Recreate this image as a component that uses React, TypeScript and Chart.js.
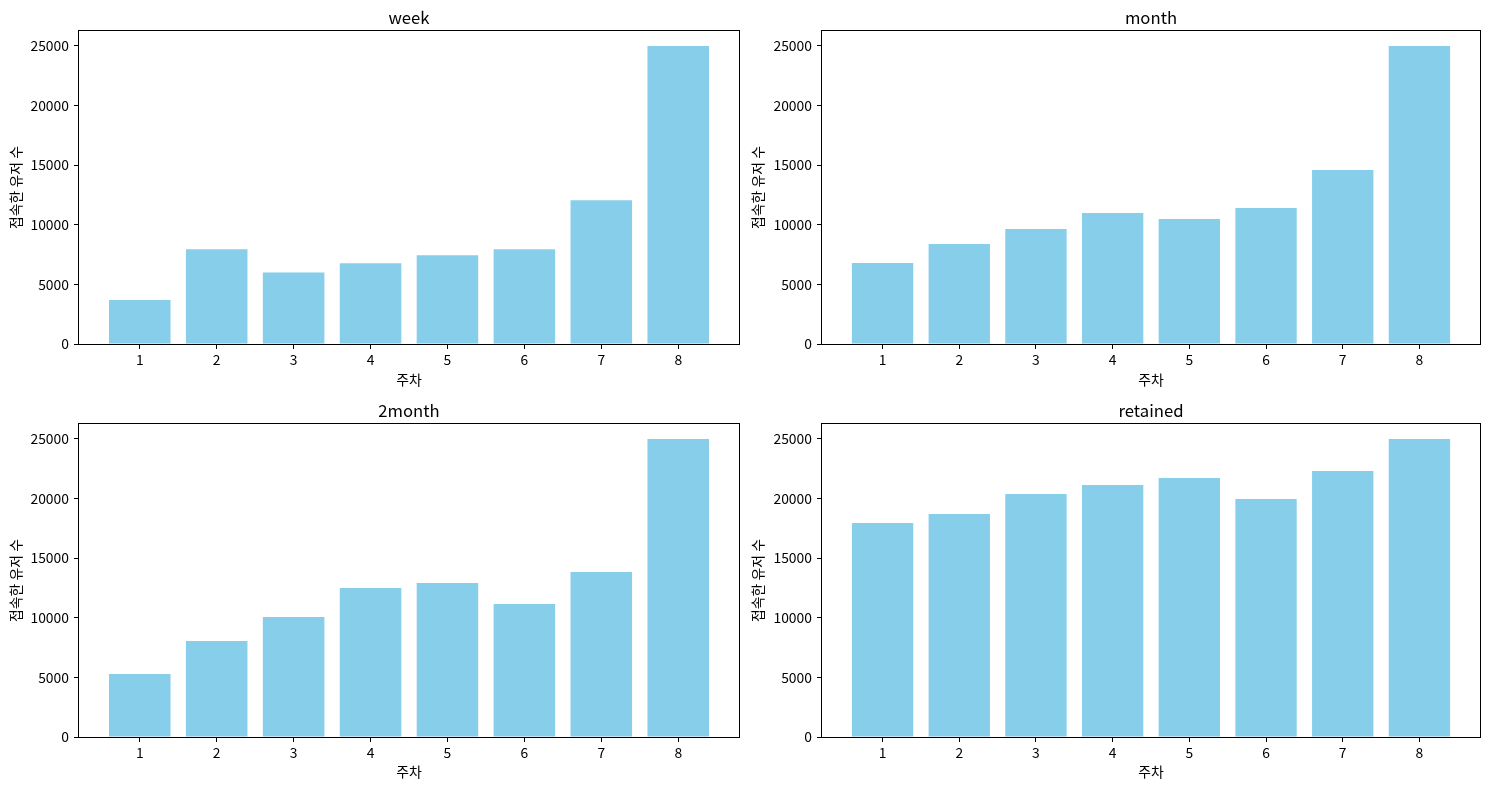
import React, { useEffect, useRef } from "react";
import { Chart, registerables } from "chart.js";

Chart.register(...registerables);

const weeks = [1, 2, 3, 4, 5, 6, 7, 8];
const weekUsers = [3700, 7950, 6000, 6770, 7440, 7950, 12060, 25000];
const monthUsers = [6800, 8390, 9650, 10990, 10490, 11410, 14600, 25000];
const twoMonthUsers = [5290, 8050, 10070, 12500, 12920, 11160, 13840, 25000];
const retainedUsers = [17950, 18710, 20390, 21140, 21730, 19970, 22320, 25000];
const yTicks = [0, 5000, 10000, 15000, 20000, 25000];

const FONT = "'Noto Sans CJK KR', 'Noto Sans', sans-serif";
const BAR_COLOR = "#87CEEB";

const framePlugin = {
  id: "frame",
  afterDraw(chart: any) {
    const { ctx, chartArea } = chart;
    const l = Math.round(chartArea.left);
    const t = Math.round(chartArea.top);
    const r = Math.round(chartArea.right);
    const b = Math.round(chartArea.bottom);
    ctx.save();
    ctx.strokeStyle = "#000";
    ctx.lineWidth = 1;
    ctx.strokeRect(l - 0.5, t - 0.5, r - l + 1, b - t + 1);
    ctx.restore();
  },
};

type PanelProps = {
  title: string;
  values: number[];
  left: number;
  top: number;
  width: number;
  height: number;
  yAxisWidth: number;
  rightPad: number;
  yTitlePad: number;
  xTitlePad: number;
};

function Panel(p: PanelProps) {
  const ref = useRef<HTMLCanvasElement | null>(null);
  useEffect(() => {
    if (!ref.current) return;
    const chart = new Chart(ref.current, {
      type: "bar",
      data: {
        datasets: [
          {
            data: weeks.map((w, i) => ({ x: w, y: p.values[i] })),
            backgroundColor: BAR_COLOR,
            borderWidth: 0,
            barPercentage: 0.8,
            categoryPercentage: 1.0,
          },
        ],
      },
      options: {
        responsive: false,
        animation: false,
        devicePixelRatio: 1,
        layout: { padding: { left: 0, right: p.rightPad, top: 0, bottom: 0 } },
        plugins: {
          legend: { display: false },
          tooltip: { enabled: false },
          title: {
            display: true,
            text: p.title,
            color: "#000",
            fullSize: false,
            font: { family: FONT, size: 16.7, weight: "normal" },
            padding: { top: 8, bottom: 3 },
          },
        },
        scales: {
          x: {
            type: "linear",
            min: 0.21,
            max: 8.79,
            offset: false,
            afterBuildTicks: (axis: any) => {
              axis.ticks = weeks.map((v) => ({ value: v }));
            },
            afterFit: (axis: any) => {
              axis.height = 51;
            },
            ticks: {
              color: "#000",
              font: { family: FONT, size: 13.9 },
              padding: 2,
              maxRotation: 0,
              autoSkip: false,
              callback: (v: any) => String(v),
            },
            grid: {
              display: true,
              offset: false,
              drawOnChartArea: false,
              drawTicks: true,
              tickLength: 5,
              color: "#000",
            },
            border: { display: false },
            title: {
              display: true,
              text: "주차",
              color: "#000",
              font: { family: FONT, size: 13.9 },
              padding: { top: 0, bottom: p.xTitlePad },
            },
          },
          y: {
            type: "linear",
            min: 0,
            max: 26250,
            afterBuildTicks: (axis: any) => {
              axis.ticks = yTicks.map((v) => ({ value: v }));
            },
            afterFit: (axis: any) => {
              axis.width = p.yAxisWidth;
            },
            ticks: {
              color: "#000",
              font: { family: FONT, size: 13.9 },
              padding: 5,
              includeBounds: false,
              callback: (v: any) => String(v),
            },
            grid: {
              display: true,
              drawOnChartArea: false,
              drawTicks: true,
              tickLength: 5,
              color: "#000",
            },
            border: { display: false },
            title: {
              display: true,
              text: "접속한 유저 수",
              color: "#000",
              font: { family: FONT, size: 13.9 },
              padding: { top: p.yTitlePad, bottom: 0 },
            },
          },
        },
      } as any,
      plugins: [framePlugin],
    });
    return () => chart.destroy();
  }, []);
  return (
    <canvas
      ref={ref}
      width={p.width}
      height={p.height}
      style={{
        position: "absolute",
        left: p.left,
        top: p.top,
        width: p.width,
        height: p.height,
      }}
    />
  );
}

export default function App() {
  return (
    <div
      style={{
        position: "fixed",
        left: 0,
        top: 0,
        width: 1489,
        height: 790,
        background: "#fff",
        overflow: "hidden",
      }}
    >
      <Panel title="week" values={weekUsers} left={0} top={0} width={744} height={395} yAxisWidth={79} rightPad={5} yTitlePad={7} xTitlePad={6.5} />
      <Panel title="month" values={monthUsers} left={744} top={0} width={745} height={395} yAxisWidth={78} rightPad={9} yTitlePad={5} xTitlePad={6.5} />
      <Panel title="2month" values={twoMonthUsers} left={0} top={393} width={744} height={395} yAxisWidth={79} rightPad={5} yTitlePad={7} xTitlePad={7.5} />
      <Panel title="retained" values={retainedUsers} left={744} top={393} width={745} height={395} yAxisWidth={78} rightPad={9} yTitlePad={5} xTitlePad={7.5} />
    </div>
  );
}
